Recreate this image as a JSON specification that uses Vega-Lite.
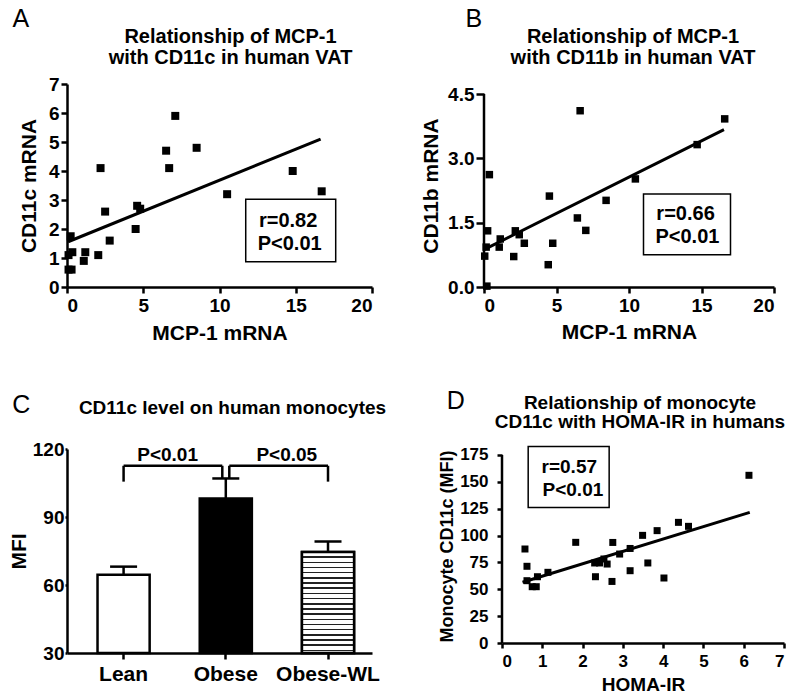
{
  "$schema": "https://vega.github.io/schema/vega-lite/v6.json",
  "background": "white",
  "padding": {"left": 8, "top": 7, "right": 0, "bottom": 0},
  "spacing": 45,
  "config": {
    "view": {"stroke": null},
    "font": "Liberation Sans",
    "axis": {"grid": false, "domainColor": "black", "domainWidth": 2.5, "tickColor": "black", "tickWidth": 2.5, "tickSize": 6, "labelColor": "black", "labelFont": "Liberation Sans", "labelFontWeight": "bold", "titleColor": "black", "titleFont": "Liberation Sans", "titleFontWeight": "bold", "labelPadding": 3, "titlePadding": 6, "labelOverlap": false},
    "title": {"font": "Liberation Sans", "color": "black"}
  },
  "datasets": {
    "A_points": [
      {"x": 0.1, "y": 0.6}, {"x": 0.3, "y": 0.6}, {"x": 0.1, "y": 1.1}, {"x": 0.35, "y": 1.2}, {"x": 0.24, "y": 1.75},
      {"x": 1.2, "y": 1.2}, {"x": 1.1, "y": 0.9}, {"x": 2.05, "y": 1.1}, {"x": 2.2, "y": 4.1}, {"x": 2.5, "y": 2.6},
      {"x": 2.8, "y": 1.6}, {"x": 4.5, "y": 2.0}, {"x": 4.6, "y": 2.8}, {"x": 4.8, "y": 2.7}, {"x": 6.5, "y": 4.7},
      {"x": 6.7, "y": 4.1}, {"x": 7.1, "y": 5.9}, {"x": 8.5, "y": 4.8}, {"x": 10.5, "y": 3.2}, {"x": 14.8, "y": 4.0},
      {"x": 16.7, "y": 3.3}
    ],
    "A_fit": [{"x": 0.07, "y": 1.56}, {"x": 16.63, "y": 5.1}],
    "A_box": [{"x": 11.72, "x2": 17.62, "y": 0.87, "y2": 3.03}],
    "A_text": [{"x": 14.5, "y": 2.29, "label": "r=0.82"}, {"x": 14.6, "y": 1.48, "label": "P<0.01"}],
    "B_points": [
      {"x": 0.05, "y": 0.72}, {"x": 0.2, "y": 0.02}, {"x": 0.15, "y": 0.93}, {"x": 0.37, "y": 2.62}, {"x": 0.25, "y": 1.31},
      {"x": 1.12, "y": 1.12}, {"x": 1.05, "y": 0.93}, {"x": 2.05, "y": 0.71}, {"x": 2.16, "y": 1.31}, {"x": 2.43, "y": 1.22},
      {"x": 2.78, "y": 1.02}, {"x": 4.43, "y": 0.52}, {"x": 4.51, "y": 2.12}, {"x": 4.74, "y": 1.02}, {"x": 6.44, "y": 1.61},
      {"x": 6.63, "y": 4.11}, {"x": 7.02, "y": 1.32}, {"x": 8.42, "y": 2.02}, {"x": 10.44, "y": 2.52}, {"x": 14.7, "y": 3.32},
      {"x": 16.6, "y": 3.92}
    ],
    "B_fit": [{"x": 0.0, "y": 0.87}, {"x": 16.55, "y": 3.67}],
    "B_axisline": [{"x": 0, "y": 0, "y2": 4.5}],
    "B_box": [{"x": 11.0, "x2": 17.0, "y": 0.75, "y2": 2.17}],
    "B_text": [{"x": 13.9, "y": 1.71, "label": "r=0.66"}, {"x": 14.03, "y": 1.16, "label": "P<0.01"}],
    "C_bars": [
      {"group": "Lean", "mfi": 64.5, "upper": 68.1, "base": 30},
      {"group": "Obese", "mfi": 98.2, "upper": 107.0, "base": 30},
      {"group": "Obese-WL", "mfi": 74.6, "upper": 79.2, "base": 30}
    ],
    "C_brackets": [
      {"from": "Lean", "to": "Obese", "top": 112.6, "fromLow": 105.6, "toLow": 107.0, "label": "P<0.01", "texty": 114.6},
      {"from": "Obese", "to": "Obese-WL", "top": 112.6, "fromLow": 107.0, "toLow": 105.6, "label": "P<0.05", "texty": 114.6}
    ],
    "D_points": [
      {"x": 0.57, "y": 87.5}, {"x": 0.62, "y": 71.4}, {"x": 0.62, "y": 58.0}, {"x": 0.75, "y": 52.4}, {"x": 0.85, "y": 52.4},
      {"x": 0.88, "y": 61.7}, {"x": 1.14, "y": 65.8}, {"x": 1.83, "y": 93.7}, {"x": 2.32, "y": 61.7}, {"x": 2.3, "y": 74.5},
      {"x": 2.42, "y": 74.5}, {"x": 2.53, "y": 78.2}, {"x": 2.61, "y": 73.5}, {"x": 2.75, "y": 93.6}, {"x": 2.73, "y": 57.3},
      {"x": 2.92, "y": 82.8}, {"x": 3.18, "y": 88.0}, {"x": 3.18, "y": 67.3}, {"x": 3.49, "y": 100.2}, {"x": 3.62, "y": 74.5},
      {"x": 3.85, "y": 104.6}, {"x": 4.02, "y": 60.5}, {"x": 4.38, "y": 112.3}, {"x": 4.63, "y": 108.6}, {"x": 6.13, "y": 156.1}
    ],
    "D_fit": [{"x": 0.51, "y": 56.5}, {"x": 6.15, "y": 121.6}],
    "D_axisline": [{"x": 0, "y": 0, "y2": 175}],
    "D_box": [{"x": 0.65, "x2": 2.66, "y": 126.2, "y2": 183.0}],
    "D_text": [{"x": 1.67, "y": 163.5, "label": "r=0.57"}, {"x": 1.76, "y": 142.4, "label": "P<0.01"}]
  },
  "vconcat": [
    {
      "spacing": 46,
      "hconcat": [
        {
          "title": {"text": "A", "anchor": "start", "fontSize": 25, "fontWeight": "normal", "offset": -5, "dx": -6},
          "vconcat": [
            {
              "title": {"text": ["Relationship of MCP-1", "with CD11c in human VAT"], "fontSize": 20, "fontWeight": "bold", "anchor": "middle", "frame": "group", "dx": 11, "lineHeight": 21, "offset": 7},
              "width": 305,
              "height": 203,
              "encoding": {
                "x": {"field": "x", "type": "quantitative", "scale": {"domain": [0, 20], "nice": false}, "axis": {"title": "MCP-1 mRNA", "values": [0, 5, 10, 15, 20], "labelFontSize": 19, "titleFontSize": 21, "titlePadding": 7}},
                "y": {"field": "y", "type": "quantitative", "scale": {"domain": [0, 7], "nice": false}, "axis": {"title": "CD11c mRNA", "values": [0, 1, 2, 3, 4, 5, 6, 7], "labelFontSize": 19, "titleFontSize": 21, "labelPadding": 2, "titlePadding": 9}}
              },
              "layer": [
                {"data": {"name": "A_points"}, "mark": {"type": "square", "size": 64, "color": "black", "opacity": 1}},
                {"data": {"name": "A_fit"}, "mark": {"type": "line", "color": "black", "strokeWidth": 3}},
                {"data": {"name": "A_box"}, "mark": {"type": "rect", "fill": "white", "stroke": "black", "strokeWidth": 1.5}, "encoding": {"x2": {"field": "x2"}, "y2": {"field": "y2"}}},
                {"data": {"name": "A_text"}, "mark": {"type": "text", "fontSize": 20, "fontWeight": "bold", "color": "black", "align": "center", "baseline": "middle"}, "encoding": {"text": {"field": "label"}}}
              ]
            }
          ]
        },
        {
          "title": {"text": "B", "anchor": "start", "fontSize": 25, "fontWeight": "normal", "offset": -5, "dx": 45},
          "vconcat": [
            {
              "title": {"text": ["Relationship of MCP-1", "with CD11b in human VAT"], "fontSize": 20, "fontWeight": "bold", "anchor": "middle", "frame": "group", "dx": 4, "lineHeight": 21, "offset": 16},
              "width": 290,
              "height": 203,
              "encoding": {
                "x": {"field": "x", "type": "quantitative", "scale": {"domain": [0, 20], "nice": false}, "axis": {"title": "MCP-1 mRNA", "values": [0, 5, 10, 15, 20], "labelFontSize": 19, "titleFontSize": 21, "titlePadding": 6}},
                "y": {"field": "y", "type": "quantitative", "scale": {"domain": [0, 4.7332], "nice": false}, "axis": {"title": "CD11b mRNA", "values": [0, 1.5, 3, 4.5], "format": ".1f", "domain": false, "labelFontSize": 19, "titleFontSize": 21, "tickSize": 8, "labelPadding": 2, "titlePadding": 6}}
              },
              "layer": [
                {"data": {"name": "B_axisline"}, "mark": {"type": "rule", "color": "black", "strokeWidth": 2.5}, "encoding": {"y2": {"field": "y2"}}},
                {"data": {"name": "B_points"}, "mark": {"type": "square", "size": 56, "color": "black", "opacity": 1}},
                {"data": {"name": "B_fit"}, "mark": {"type": "line", "color": "black", "strokeWidth": 3}},
                {"data": {"name": "B_box"}, "mark": {"type": "rect", "fill": "white", "stroke": "black", "strokeWidth": 1.5}, "encoding": {"x2": {"field": "x2"}, "y2": {"field": "y2"}}},
                {"data": {"name": "B_text"}, "mark": {"type": "text", "fontSize": 20, "fontWeight": "bold", "color": "black", "align": "center", "baseline": "middle"}, "encoding": {"text": {"field": "label"}}}
              ]
            }
          ]
        }
      ]
    },
    {
      "spacing": 51,
      "hconcat": [
        {
          "title": {"text": "C", "anchor": "start", "fontSize": 25, "fontWeight": "normal", "offset": -19, "dx": 4},
          "vconcat": [
            {
              "title": {"text": "CD11c level on human monocytes", "fontSize": 19, "fontWeight": "bold", "anchor": "middle", "frame": "group", "dx": 13, "offset": 22},
              "width": 305,
              "height": 204,
              "layer": [
                {
                  "data": {"name": "C_bars"},
                  "mark": {"type": "bar", "stroke": "black", "strokeWidth": 2.5},
                  "encoding": {
                    "x": {"field": "group", "type": "nominal", "sort": null, "scale": {"domain": ["Lean", "Obese", "Obese-WL"], "paddingInner": 0.49, "paddingOuter": 0.237, "align": 0.63}, "axis": {"title": null, "labelAngle": 0, "labelFontSize": 21, "bandPosition": 0.5, "labelPadding": 4, "tickSize": 6}},
                    "y": {"field": "mfi", "type": "quantitative", "scale": {"domain": [30, 120], "nice": false, "zero": false}, "axis": {"title": "MFI", "values": [30, 60, 90, 120], "labelFontSize": 19, "titleFontSize": 21, "tickSize": 2, "labelPadding": 1, "titlePadding": 3}},
                    "y2": {"field": "base"},
                    "fill": {"field": "group", "type": "nominal", "scale": {"domain": ["Lean", "Obese", "Obese-WL"], "range": ["white", "black", "white"]}, "legend": null}
                  }
                },
                {
                  "data": {"name": "C_bars"},
                  "transform": [{"filter": "datum.group == 'Obese-WL'"}],
                  "mark": {"type": "bar", "stroke": "black", "strokeWidth": 2.5, "fill": {"gradient": "linear", "x1": 0, "y1": 0, "x2": 0, "y2": 1, "stops": [
                    {"offset": 0, "color": "white"},
                    {"offset": 0.0438, "color": "white"}, {"offset": 0.0438, "color": "#222"}, {"offset": 0.0588, "color": "#222"}, {"offset": 0.0588, "color": "white"},
                    {"offset": 0.0951, "color": "white"}, {"offset": 0.0951, "color": "#222"}, {"offset": 0.1101, "color": "#222"}, {"offset": 0.1101, "color": "white"},
                    {"offset": 0.1463, "color": "white"}, {"offset": 0.1463, "color": "#222"}, {"offset": 0.1613, "color": "#222"}, {"offset": 0.1613, "color": "white"},
                    {"offset": 0.1976, "color": "white"}, {"offset": 0.1976, "color": "#222"}, {"offset": 0.2126, "color": "#222"}, {"offset": 0.2126, "color": "white"},
                    {"offset": 0.2489, "color": "white"}, {"offset": 0.2489, "color": "#222"}, {"offset": 0.2639, "color": "#222"}, {"offset": 0.2639, "color": "white"},
                    {"offset": 0.3002, "color": "white"}, {"offset": 0.3002, "color": "#222"}, {"offset": 0.3152, "color": "#222"}, {"offset": 0.3152, "color": "white"},
                    {"offset": 0.3515, "color": "white"}, {"offset": 0.3515, "color": "#222"}, {"offset": 0.3665, "color": "#222"}, {"offset": 0.3665, "color": "white"},
                    {"offset": 0.4028, "color": "white"}, {"offset": 0.4028, "color": "#222"}, {"offset": 0.4178, "color": "#222"}, {"offset": 0.4178, "color": "white"},
                    {"offset": 0.4540, "color": "white"}, {"offset": 0.4540, "color": "#222"}, {"offset": 0.4690, "color": "#222"}, {"offset": 0.4690, "color": "white"},
                    {"offset": 0.5053, "color": "white"}, {"offset": 0.5053, "color": "#222"}, {"offset": 0.5203, "color": "#222"}, {"offset": 0.5203, "color": "white"},
                    {"offset": 0.5566, "color": "white"}, {"offset": 0.5566, "color": "#222"}, {"offset": 0.5716, "color": "#222"}, {"offset": 0.5716, "color": "white"},
                    {"offset": 0.6079, "color": "white"}, {"offset": 0.6079, "color": "#222"}, {"offset": 0.6229, "color": "#222"}, {"offset": 0.6229, "color": "white"},
                    {"offset": 0.6592, "color": "white"}, {"offset": 0.6592, "color": "#222"}, {"offset": 0.6742, "color": "#222"}, {"offset": 0.6742, "color": "white"},
                    {"offset": 0.7104, "color": "white"}, {"offset": 0.7104, "color": "#222"}, {"offset": 0.7254, "color": "#222"}, {"offset": 0.7254, "color": "white"},
                    {"offset": 0.7617, "color": "white"}, {"offset": 0.7617, "color": "#222"}, {"offset": 0.7767, "color": "#222"}, {"offset": 0.7767, "color": "white"},
                    {"offset": 0.8130, "color": "white"}, {"offset": 0.8130, "color": "#222"}, {"offset": 0.8280, "color": "#222"}, {"offset": 0.8280, "color": "white"},
                    {"offset": 0.8643, "color": "white"}, {"offset": 0.8643, "color": "#222"}, {"offset": 0.8793, "color": "#222"}, {"offset": 0.8793, "color": "white"},
                    {"offset": 0.9156, "color": "white"}, {"offset": 0.9156, "color": "#222"}, {"offset": 0.9306, "color": "#222"}, {"offset": 0.9306, "color": "white"},
                    {"offset": 0.9669, "color": "white"}, {"offset": 0.9669, "color": "#222"}, {"offset": 0.9819, "color": "#222"}, {"offset": 0.9819, "color": "white"},
                    {"offset": 1, "color": "white"}
                  ]}},
                  "encoding": {
                    "x": {"field": "group", "type": "nominal", "sort": null, "scale": {"domain": ["Lean", "Obese", "Obese-WL"]}},
                    "y": {"field": "mfi", "type": "quantitative"},
                    "y2": {"field": "base"}
                  }
                },
                {
                  "data": {"name": "C_bars"},
                  "mark": {"type": "rule", "color": "black", "strokeWidth": 2.5},
                  "encoding": {
                    "x": {"field": "group", "type": "nominal", "sort": null, "scale": {"domain": ["Lean", "Obese", "Obese-WL"]}},
                    "y": {"field": "mfi", "type": "quantitative"},
                    "y2": {"field": "upper"}
                  }
                },
                {
                  "data": {"name": "C_bars"},
                  "mark": {"type": "tick", "orient": "horizontal", "size": 27, "thickness": 2.5, "color": "black", "opacity": 1},
                  "encoding": {
                    "x": {"field": "group", "type": "nominal", "sort": null, "scale": {"domain": ["Lean", "Obese", "Obese-WL"]}},
                    "y": {"field": "upper", "type": "quantitative"}
                  }
                },
                {
                  "data": {"name": "C_brackets"},
                  "transform": [{"filter": "datum.label == 'P<0.01'"}],
                  "mark": {"type": "rule", "color": "black", "strokeWidth": 2.5, "x2Offset": -3.5},
                  "encoding": {
                    "x": {"field": "from", "type": "nominal", "sort": null, "scale": {"domain": ["Lean", "Obese", "Obese-WL"]}},
                    "x2": {"field": "to"},
                    "y": {"field": "top", "type": "quantitative"}
                  }
                },
                {
                  "data": {"name": "C_brackets"},
                  "transform": [{"filter": "datum.label == 'P<0.05'"}],
                  "mark": {"type": "rule", "color": "black", "strokeWidth": 2.5, "xOffset": 3.5},
                  "encoding": {
                    "x": {"field": "from", "type": "nominal", "sort": null, "scale": {"domain": ["Lean", "Obese", "Obese-WL"]}},
                    "x2": {"field": "to"},
                    "y": {"field": "top", "type": "quantitative"}
                  }
                },
                {
                  "data": {"name": "C_brackets"},
                  "transform": [{"filter": "datum.label == 'P<0.01'"}],
                  "mark": {"type": "rule", "color": "black", "strokeWidth": 2.5},
                  "encoding": {
                    "x": {"field": "from", "type": "nominal", "sort": null, "scale": {"domain": ["Lean", "Obese", "Obese-WL"]}},
                    "y": {"field": "top", "type": "quantitative"},
                    "y2": {"field": "fromLow"}
                  }
                },
                {
                  "data": {"name": "C_brackets"},
                  "transform": [{"filter": "datum.label == 'P<0.01'"}],
                  "mark": {"type": "rule", "color": "black", "strokeWidth": 2.5, "xOffset": -3.5},
                  "encoding": {
                    "x": {"field": "to", "type": "nominal", "sort": null, "scale": {"domain": ["Lean", "Obese", "Obese-WL"]}},
                    "y": {"field": "top", "type": "quantitative"},
                    "y2": {"field": "toLow"}
                  }
                },
                {
                  "data": {"name": "C_brackets"},
                  "transform": [{"filter": "datum.label == 'P<0.05'"}],
                  "mark": {"type": "rule", "color": "black", "strokeWidth": 2.5, "xOffset": 3.5},
                  "encoding": {
                    "x": {"field": "from", "type": "nominal", "sort": null, "scale": {"domain": ["Lean", "Obese", "Obese-WL"]}},
                    "y": {"field": "top", "type": "quantitative"},
                    "y2": {"field": "fromLow"}
                  }
                },
                {
                  "data": {"name": "C_brackets"},
                  "transform": [{"filter": "datum.label == 'P<0.05'"}],
                  "mark": {"type": "rule", "color": "black", "strokeWidth": 2.5},
                  "encoding": {
                    "x": {"field": "to", "type": "nominal", "sort": null, "scale": {"domain": ["Lean", "Obese", "Obese-WL"]}},
                    "y": {"field": "top", "type": "quantitative"},
                    "y2": {"field": "toLow"}
                  }
                },
                {
                  "data": {"name": "C_brackets"},
                  "transform": [{"filter": "datum.label == 'P<0.01'"}],
                  "mark": {"type": "text", "fontSize": 19, "fontWeight": "bold", "color": "black", "align": "center", "baseline": "alphabetic", "xOffset": 44},
                  "encoding": {
                    "x": {"field": "from", "type": "nominal", "sort": null, "scale": {"domain": ["Lean", "Obese", "Obese-WL"]}},
                    "y": {"field": "texty", "type": "quantitative"},
                    "text": {"field": "label"}
                  }
                },
                {
                  "data": {"name": "C_brackets"},
                  "transform": [{"filter": "datum.label == 'P<0.05'"}],
                  "mark": {"type": "text", "fontSize": 19, "fontWeight": "bold", "color": "black", "align": "center", "baseline": "alphabetic", "xOffset": 61},
                  "encoding": {
                    "x": {"field": "from", "type": "nominal", "sort": null, "scale": {"domain": ["Lean", "Obese", "Obese-WL"]}},
                    "y": {"field": "texty", "type": "quantitative"},
                    "text": {"field": "label"}
                  }
                }
              ]
            }
          ]
        },
        {
          "title": {"text": "D", "anchor": "start", "fontSize": 25, "fontWeight": "normal", "offset": -20, "dx": 8},
          "vconcat": [
            {
              "title": {"text": ["Relationship of monocyte", "CD11c with HOMA-IR in humans"], "fontSize": 19, "fontWeight": "bold", "anchor": "middle", "frame": "group", "dx": -3, "lineHeight": 19, "offset": 14},
              "width": 282,
              "height": 194,
              "encoding": {
                "x": {"field": "x", "type": "quantitative", "scale": {"domain": [0, 7], "nice": false}, "axis": {"title": "HOMA-IR", "values": [0, 1, 2, 3, 4, 5, 6, 7], "labelFontSize": 17, "titleFontSize": 19, "tickSize": 5, "labelPadding": 5, "titlePadding": 6}},
                "y": {"field": "y", "type": "quantitative", "scale": {"domain": [0, 180.585], "nice": false}, "axis": {"title": "Monocyte CD11c (MFI)", "values": [0, 25, 50, 75, 100, 125, 150, 175], "domain": false, "labelFontSize": 17, "titleFontSize": 18, "tickSize": 5, "labelPadding": 9, "titlePadding": 3}}
              },
              "layer": [
                {"data": {"name": "D_axisline"}, "mark": {"type": "rule", "color": "black", "strokeWidth": 2.5}, "encoding": {"y2": {"field": "y2"}}},
                {"data": {"name": "D_points"}, "mark": {"type": "square", "size": 49, "color": "black", "opacity": 1}},
                {"data": {"name": "D_fit"}, "mark": {"type": "line", "color": "black", "strokeWidth": 3}},
                {"data": {"name": "D_box"}, "mark": {"type": "rect", "fill": "white", "stroke": "black", "strokeWidth": 1.5}, "encoding": {"x2": {"field": "x2"}, "y2": {"field": "y2"}}},
                {"data": {"name": "D_text"}, "mark": {"type": "text", "fontSize": 19, "fontWeight": "bold", "color": "black", "align": "center", "baseline": "middle"}, "encoding": {"text": {"field": "label"}}}
              ]
            }
          ]
        }
      ]
    }
  ]
}
